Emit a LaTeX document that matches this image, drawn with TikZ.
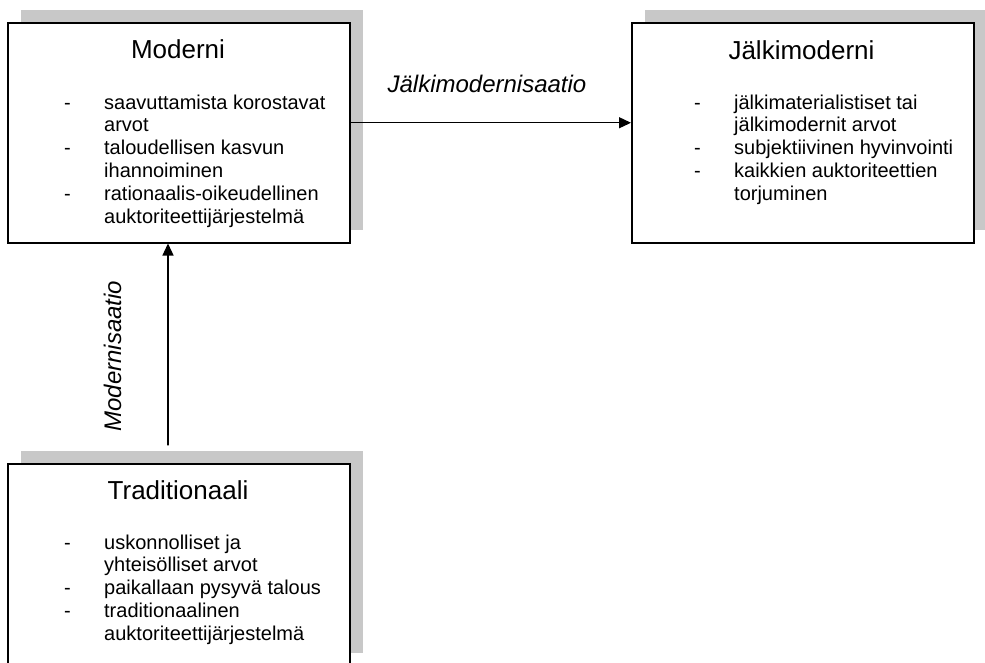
\documentclass[tikz,border=0pt]{standalone}
\usepackage{fontspec}
\setmainfont{Liberation Sans}
\usetikzlibrary{arrows.meta,shadows}
\definecolor{shadowgray}{RGB}{200,200,200}
\tikzset{
  stage/.style={draw, line width=1.5pt, fill=white, anchor=north west, inner sep=0pt,
    minimum width=342pt, minimum height=220pt,
    general shadow={fill=shadowgray, shadow xshift=13pt, shadow yshift=13pt}},
  stagetitle/.style={anchor=base, inner sep=0pt, font=\fontsize{26}{30}\selectfont},
  stageitems/.style={anchor=base west, inner sep=0pt, font=\fontsize{20}{22.8}\selectfont},
  shiftlabel/.style={anchor=base, inner sep=0pt, font=\fontsize{24}{28}\selectfont\itshape}
}
\begin{document}
\begin{tikzpicture}[x=1pt,y=-1pt,line cap=round,>={Triangle[length=12pt,width=11pt]}]
\useasboundingbox (0,0) rectangle (985,662);
\clip (0,0) rectangle (985,662);
% stages
\node[stage] (moderni) at (7,22) {};
\node[stage] (jalki) at (631,22) {};
\node[stage, minimum height=202pt] (trad) at (7,463) {};
% titles
\node[stagetitle] (modernititle) at (178,58) {Moderni};
\node[stagetitle] (jalkititle) at (801.5,59) {Jälkimoderni};
\node[stagetitle] (tradtitle) at (178,499) {Traditionaali};
% lists
\node[stageitems] (moderniitems) at (64,109) {\begin{tabular}[t]{@{}p{40pt}@{}l@{}}
- & saavuttamista korostavat\\
  & arvot\\
- & taloudellisen kasvun\\
  & ihannoiminen\\
- & rationaalis-oikeudellinen\\
  & auktoriteettijärjestelmä
\end{tabular}};
\node[stageitems] (jalkiitems) at (694,109) {\begin{tabular}[t]{@{}p{40pt}@{}l@{}}
- & jälkimaterialistiset tai\\
  & jälkimodernit arvot\\
- & subjektiivinen hyvinvointi\\
- & kaikkien auktoriteettien\\
  & torjuminen
\end{tabular}};
\node[stageitems] (traditems) at (64,549) {\begin{tabular}[t]{@{}p{40pt}@{}l@{}}
- & uskonnolliset ja\\
  & yhteisölliset arvot\\
- & paikallaan pysyvä talous\\
- & traditionaalinen\\
  & auktoriteettijärjestelmä
\end{tabular}};
% transitions
\coordinate (tradtop) at (168,445);
\draw[->, line width=1.3pt] ([yshift=10pt]moderni.east) -- ([yshift=10pt]jalki.west);
\draw[->, line width=1.3pt] (tradtop) -- (moderni.south -| tradtop);
\node[shiftlabel] (jalkilabel) at (487,92) {Jälkimodernisaatio};
\node[shiftlabel, rotate=90] (modlabel) at (121,356) {Modernisaatio};
\end{tikzpicture}
\end{document}
